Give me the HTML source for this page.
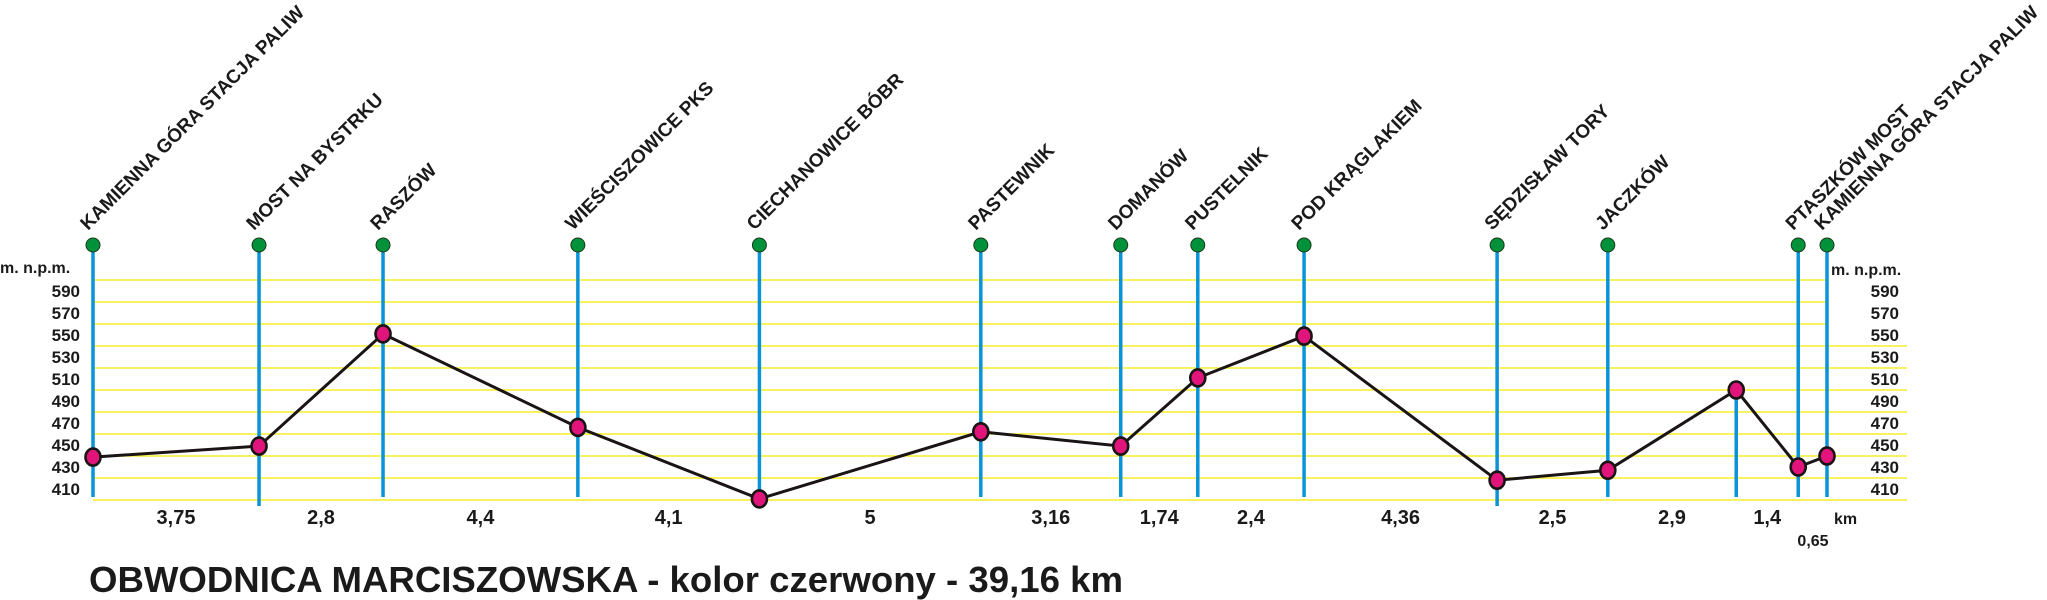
<!DOCTYPE html>
<html><head><meta charset="utf-8"><style>
html,body{margin:0;padding:0;background:#fff;}
svg{display:block;font-family:"Liberation Sans",Arial,sans-serif;}
</style></head><body>
<svg id="chart" width="2047" height="600" viewBox="0 0 2047 600" xmlns="http://www.w3.org/2000/svg">
<g id="grid"></g>
<g id="yaxis">
<text x="0" y="273" font-size="16" font-weight="bold" fill="#1a1a1a">m. n.p.m.</text>
</g>
<g id="yaxis2">
<text x="1831" y="275" font-size="16" font-weight="bold" fill="#1a1a1a">m. n.p.m.</text>
</g>
<g id="stops"></g>
<g id="profile"></g>
<g id="dist">
<text x="1834" y="524" font-size="16" font-weight="bold" fill="#1a1a1a">km</text>
</g>
<text x="89" y="592" font-size="36" font-weight="bold" fill="#1a1a1a" textLength="1034" lengthAdjust="spacingAndGlyphs">OBWODNICA MARCISZOWSKA - kolor czerwony - 39,16 km</text>
</svg>
<script>
const stopNames = ["KAMIENNA GÓRA STACJA PALIW","MOST NA BYSTRKU","RASZÓW","WIEŚCISZOWICE PKS","CIECHANOWICE BÓBR","PASTEWNIK","DOMANÓW","PUSTELNIK","POD KRĄGLAKIEM","SĘDZISŁAW TORY","JACZKÓW","","PTASZKÓW MOST","KAMIENNA GÓRA STACJA PALIW"];
const segmentKm = [3.75,2.8,4.4,4.1,5,3.16,1.74,2.4,4.36,2.5,2.9,1.4,0.65];
const segmentLabels = ["3,75","2,8","4,4","4,1","5","3,16","1,74","2,4","4,36","2,5","2,9","1,4","0,65"];
const elevations = [439,449,551,466,401,462,449,511,549,418,427,500,430,440];
const yTicks = [590,570,550,530,510,490,470,450,430,410];
const gridValues = [600,580,560,540,520,500,480,460,440,420,400];

const NS="http://www.w3.org/2000/svg";
const X0=93, KM=44.28;
function xScale(d){return X0+d*KM;}
function yScale(v){return 280+(600-v)*1.1;}
function mk(tag,attrs,parent){const e=document.createElementNS(NS,tag);for(const k in attrs)e.setAttribute(k,attrs[k]);parent.appendChild(e);return e;}

const cum=[0];segmentKm.forEach((s,i)=>cum.push(cum[i]+s));
const xs=cum.map(xScale);
const xEnd=xs[xs.length-1];

const grid=document.getElementById('grid');
gridValues.forEach(v=>{
  const y=yScale(v);
  const right = v>=560 ? xEnd : 1907;
  const ln=mk('line',{x1:X0,x2:right,y1:y,y2:y,stroke:'#f5ee2a','stroke-width':1.6},grid);
  
  
});

const ya=document.getElementById('yaxis'), yb=document.getElementById('yaxis2');
yTicks.forEach(v=>{
  const t=mk('text',{x:80,y:yScale(v)+6,'text-anchor':'end','font-size':17,'font-weight':'bold',fill:'#1a1a1a'},ya);
  t.textContent=v;
  
  
  const t2=mk('text',{x:1899,y:yScale(v)+6,'text-anchor':'end','font-size':17,'font-weight':'bold',fill:'#1a1a1a'},yb);
  t2.textContent=v;
  
  
});

const stops=document.getElementById('stops');
stopNames.forEach((n,i)=>{
  const x=xs[i];
  const hasLabel=n!=="";
  const top=hasLabel?245:yScale(elevations[i]);
  const bottom=(i===1||i===9)?506:497;
  const ln=mk('line',{x1:x,x2:x,y1:top,y2:bottom,stroke:'#0a93d8','stroke-width':3.5},stops);
  
  
  if(hasLabel){
    const c=mk('circle',{cx:x,cy:245,r:7,fill:'#00913a',stroke:'#1a3a1a','stroke-width':1},stops);
    
    
    const t=mk('text',{x:x-5,y:231,'font-size':19,'font-weight':'bold',fill:'#1a1a1a',transform:'rotate(-45 '+(x-5)+' 231)'},stops);
    t.textContent=n;
    
    
  }
});

const prof=document.getElementById('profile');
const pts=xs.map((x,i)=>x+','+yScale(elevations[i])).join(' ');
const pl=mk('polyline',{points:pts,fill:'none',stroke:'#1a1414','stroke-width':3},prof);


elevations.forEach((v,i)=>{
  const e=mk('ellipse',{cx:xs[i],cy:yScale(v),rx:7.5,ry:8.5,fill:'#e0147a',stroke:'#1a1414','stroke-width':2.6},prof);
  
  
});

const dist=document.getElementById('dist');
segmentLabels.forEach((s,i)=>{
  const last=i===segmentLabels.length-1;
  const x=last?1813:(xs[i]+xs[i+1])/2;
  const y=last?546:524;
  const t=mk('text',{x:x,y:y,'text-anchor':'middle','font-size':last?16:20,'font-weight':'bold',fill:'#1a1a1a'},dist);
  t.textContent=s;
  
  
});
</script>
</body></html>
